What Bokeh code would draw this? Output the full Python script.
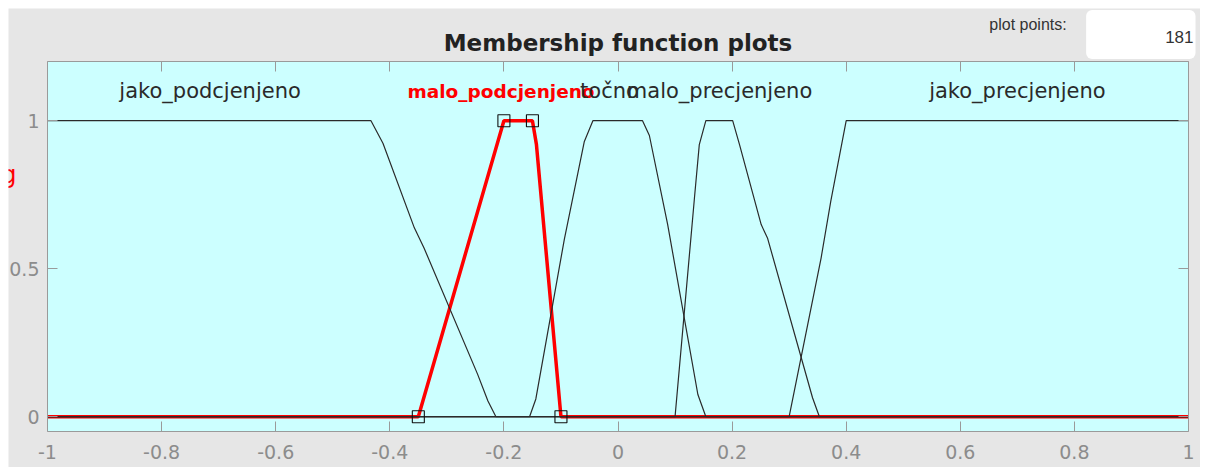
from bokeh.plotting import figure
from bokeh.models import Range1d, LinearAxis, FixedTicker, Label, BoxAnnotation
from bokeh.embed import file_html
from bokeh.resources import INLINE

# ---- data ----
x_ticks = [-1.0, -0.8, -0.6, -0.4, -0.2, 0.0, 0.2, 0.4, 0.6, 0.8, 1.0]
y_ticks = [0.0, 0.5, 1.0]
x_lim = [-1.0, 1.0]
y_lim = [-0.05, 1.2]

mf_names = ["jako_podcjenjeno", "malo_podcjenjeno", "točno", "malo_precjenjeno", "jako_precjenjeno"]
mf_label_x = [-0.715, -0.205, -0.015, 0.178, 0.70]
mf_label_y = 1.1

jako_pod_x = [-1.0, -0.433, -0.412, -0.357, -0.340, -0.246, -0.228, -0.214, 1.0]
jako_pod_y = [1.0, 1.0, 0.924, 0.638, 0.570, 0.143, 0.053, 0.0, 0.0]

malo_pod_x = [-1.0, -0.35, -0.2, -0.15, -0.143, -0.1, 1.0]
malo_pod_y = [0.0, 0.0, 1.0, 1.0, 0.92, 0.0, 0.0]
malo_pod_params = [-0.35, -0.2, -0.15, -0.1]
malo_pod_param_y = [0.0, 1.0, 1.0, 0.0]

tocno_x = [-1.0, -0.155, -0.144, -0.094, -0.059, -0.044, 0.043, 0.055, 0.087, 0.140, 0.154, 1.0]
tocno_y = [0.0, 0.0, 0.06, 0.60, 0.93, 1.0, 1.0, 0.95, 0.65, 0.075, 0.0, 0.0]

malo_pre_x = [-1.0, 0.100, 0.134, 0.1425, 0.154, 0.201, 0.213, 0.251, 0.262, 0.341, 0.353, 1.0]
malo_pre_y = [0.0, 0.0, 0.739, 0.919, 1.0, 1.0, 0.919, 0.649, 0.604, 0.064, 0.0, 0.0]

jako_pre_x = [-1.0, 0.300, 0.356, 0.373, 0.400, 1.0]
jako_pre_y = [0.0, 0.0, 0.536, 0.728, 1.0, 1.0]

title_text = "Membership function plots"
plot_points_label = "plot points:"
plot_points = "181"
side_label = "g"

# ---- layout (pixels inside the 1192x459 canvas) ----
W, H = 1192, 459
FL, FR, FT, FB = 39, 1180, 53, 423          # where the axes box sits
sx = (x_lim[1] - x_lim[0]) / (FR - FL)       # data per px
sy = (y_lim[1] - y_lim[0]) / (FB - FT)
def X(px):
    return x_lim[0] + (px - FL) * sx
def Y(py):
    return y_lim[1] - (py - FT) * sy

GRAY = "#9a9a9a"
TICKTXT = "#8c8c8c"

p = figure(width=W, height=H, output_backend="svg", toolbar_location=None,
           x_range=Range1d(X(0), X(W)), y_range=Range1d(Y(H), Y(0)),
           x_axis_location=None, y_axis_location=None,
           min_border=0, background_fill_color="#e6e6e6", border_fill_color="#e6e6e6")
p.margin = (8, 0, 0, 8)
p.grid.visible = False
p.outline_line_color = None

# plot area
p.add_layout(BoxAnnotation(left=x_lim[0], right=x_lim[1], bottom=y_lim[0], top=y_lim[1],
                           fill_color="#ccffff", fill_alpha=1.0, line_color=None, level="underlay"))

def make_axis(loc, ticks, labels, bounds):
    ax = LinearAxis(ticker=FixedTicker(ticks=ticks), fixed_location=loc,
                    major_label_overrides=labels, bounds=tuple(bounds))
    ax.axis_line_color = GRAY
    ax.major_tick_line_color = GRAY
    ax.major_tick_line_width = 1
    ax.major_tick_in = 10
    ax.major_tick_out = 0
    ax.minor_tick_line_color = None
    ax.major_label_text_color = TICKTXT
    ax.major_label_text_font = "DejaVu Sans"
    ax.major_label_text_font_size = "19px"
    return ax

bottom_axis = make_axis(y_lim[0], x_ticks, {t: ("%g" % t) for t in x_ticks}, x_lim)
bottom_axis.major_label_standoff = 13
left_axis = make_axis(x_lim[0], y_ticks, {t: ("%g" % t) for t in y_ticks}, y_lim)
left_axis.major_label_standoff = 8
top_axis = make_axis(y_lim[1], x_ticks, {t: "" for t in x_ticks}, x_lim)
right_axis = make_axis(x_lim[1], y_ticks, {t: "" for t in y_ticks}, y_lim)
p.add_layout(bottom_axis, "below")
p.add_layout(left_axis, "left")
p.add_layout(top_axis, "above")
p.add_layout(right_axis, "right")

# selected MF in red (thick)
p.line(malo_pod_x, malo_pod_y, line_color="#ff0000", line_width=3.5)

# other MFs in thin dark lines
for xs, ys in [(jako_pod_x, jako_pod_y), (tocno_x, tocno_y), (malo_pre_x, malo_pre_y), (jako_pre_x, jako_pre_y)]:
    p.line(xs, ys, line_color="#2a2a2a", line_width=1.2)

# parameter squares of the selected MF
p.scatter(malo_pod_params, malo_pod_param_y, marker="square", size=12,
          fill_color=None, line_color="#111111", line_width=1.1)

# MF names: red (selected) first, black ones drawn over it
p.add_layout(Label(x=mf_label_x[1], y=mf_label_y, text=mf_names[1], text_align="center",
                   text_baseline="middle", text_font="DejaVu Sans", text_font_size="18.5px",
                   text_font_style="bold", text_color="#ff0000"))
for i, (name, lx) in enumerate(zip(mf_names, mf_label_x)):
    if i == 1:
        continue
    p.add_layout(Label(x=lx, y=mf_label_y, text=name, text_align="center", text_baseline="middle",
                       text_font="DejaVu Sans", text_font_size="21px", text_color="#2a2a2a"))

# title
p.add_layout(Label(x=0.0, y=Y(34), text=title_text, text_align="center",
                   text_baseline="alphabetic", text_font="DejaVu Sans", text_font_size="23px",
                   text_font_style="bold", text_color="#222222"))

# plot points
p.add_layout(Label(x=X(1019.5), y=Y(16), text=plot_points_label, text_align="center",
                   text_baseline="alphabetic", text_font="Liberation Sans", text_font_size="16px",
                   text_color="#333333"))
p.add_layout(Label(x=X(1187), y=Y(26), text=plot_points, text_align="right",
                   text_baseline="alphabetic", text_font="Liberation Sans", text_font_size="17px",
                   text_color="#333333", background_fill_color="white",
                   padding=dict(left=79, right=2, top=21, bottom=16), border_radius=6))

# clipped name of the input variable at the left edge
p.add_layout(Label(x=X(8), y=Y(166), text=side_label, text_align="right",
                   text_baseline="alphabetic", text_font="DejaVu Sans", text_font_size="24px",
                   text_color="#ff0000"))

open("out.html", "w").write(file_html(p, INLINE))
